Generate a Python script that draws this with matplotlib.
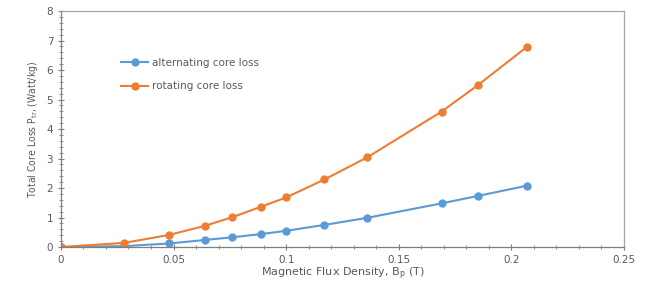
import numpy as np
import matplotlib.pyplot as plt
from matplotlib.ticker import MultipleLocator

# flux density (T) and core loss (W/kg)
bp = [0, 0.028, 0.048, 0.064, 0.076, 0.089, 0.100, 0.117, 0.136, 0.169, 0.185, 0.207]
alt_loss = [0, 0.03, 0.12, 0.24, 0.33, 0.44, 0.55, 0.75, 0.99, 1.48, 1.73, 2.08]
rot_loss = [0, 0.14, 0.41, 0.72, 1.01, 1.37, 1.68, 2.29, 3.04, 4.59, 5.48, 6.79]

blue = '#5B9BD5'
orange = '#ED7D31'
grey = '#595959'

fig = plt.figure(figsize=(6.48, 2.82), dpi=100)
ax = fig.add_axes([0.094, 0.124, 0.869, 0.837])

ax.plot(bp, alt_loss, color=blue, lw=1.5, marker='o', ms=5, label='alternating core loss')
ax.plot(bp, rot_loss, color=orange, lw=1.5, marker='o', ms=5, label='rotating core loss')

ax.set_xlim(0, 0.25)
ax.set_ylim(0, 8)
ax.xaxis.set_minor_locator(MultipleLocator(0.01))
ax.yaxis.set_major_locator(MultipleLocator(1))
ax.yaxis.set_minor_locator(MultipleLocator(0.2))
ax.set_xticks([0, 0.05, 0.1, 0.15, 0.2, 0.25])
ax.set_xticklabels(['0', '0.05', '0.1', '0.15', '0.2', '0.25'])

ax.tick_params(which='major', direction='inout', length=5, width=0.8, color='#7f7f7f',
               labelsize=7.5, labelcolor=grey, pad=3)
ax.tick_params(which='minor', direction='inout', length=3, width=0.6, color='#7f7f7f')

for s in ax.spines.values():
    s.set_color('#a6a6a6')
    s.set_linewidth(0.9)
ax.spines['left'].set_color('#7f7f7f')
ax.spines['bottom'].set_color('#7f7f7f')

ax.set_xlabel('Magnetic Flux Density, B$_\\mathregular{p}$ (T)', fontsize=8, color=grey, labelpad=1)
ax.set_ylabel('Total Core Loss P$_\\mathregular{tr}$, (Watt/kg)', fontsize=7.5, color=grey,
              labelpad=5, fontstretch='condensed')

leg = ax.legend(loc='upper left', bbox_to_anchor=(0.09, 0.842), frameon=False, fontsize=7.5,
                handlelength=2.6, labelspacing=1.3, handletextpad=0.4)
for t in leg.get_texts():
    t.set_color(grey)

fig.savefig('out.png', dpi=100)
